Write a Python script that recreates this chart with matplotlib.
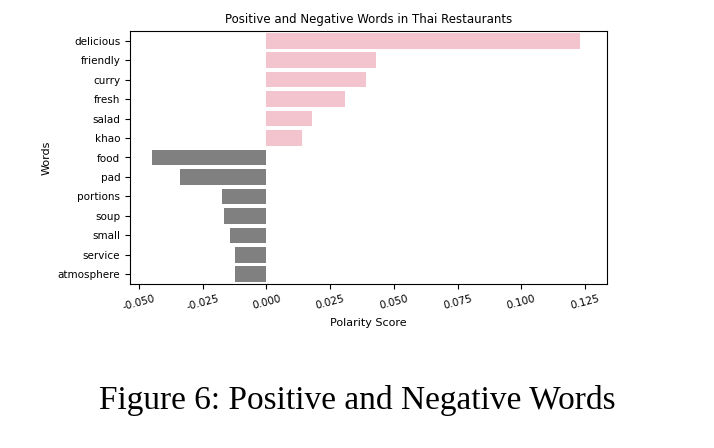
import matplotlib
matplotlib.use("Agg")
import matplotlib.pyplot as plt

words = ["delicious","friendly","curry","fresh","salad","khao","food","pad","portions","soup","small","service","atmosphere"]
scores = [0.123,0.043,0.039,0.031,0.018,0.014,-0.045,-0.034,-0.0175,-0.0167,-0.0144,-0.0125,-0.0125]
colors = ["#f4c4ce" if s > 0 else "#808080" for s in scores]

fig = plt.figure(figsize=(7.14,4.48), dpi=100)
ax = fig.add_axes([130/714, 1-284/448, 477/714, 253/448])
y = list(range(len(words)))
ax.barh(y, scores, color=colors, height=0.8)
ax.set_yticks(y)
ax.set_yticklabels(words, fontsize=7.5)
ax.set_ylim(len(words)-0.5, -0.5)
ax.set_xlim(-0.0535, 0.1336)
ticks = [-0.05,-0.025,0,0.025,0.05,0.075,0.1,0.125]
ax.set_xticks(ticks)
ax.set_xticklabels(["%.3f" % t for t in ticks], rotation=15, fontsize=7.5)
ax.set_xlabel("Polarity Score", fontsize=8)
ax.set_ylabel("Words", fontsize=8)
ax.set_title("Positive and Negative Words in Thai Restaurants", fontsize=8.5)
fig.text(0.5, 1-400/448, "Figure 6: Positive and Negative Words", ha="center", va="center",
         fontsize=24, family=["Liberation Serif","DejaVu Serif"])
fig.savefig("out.png", dpi=100)
